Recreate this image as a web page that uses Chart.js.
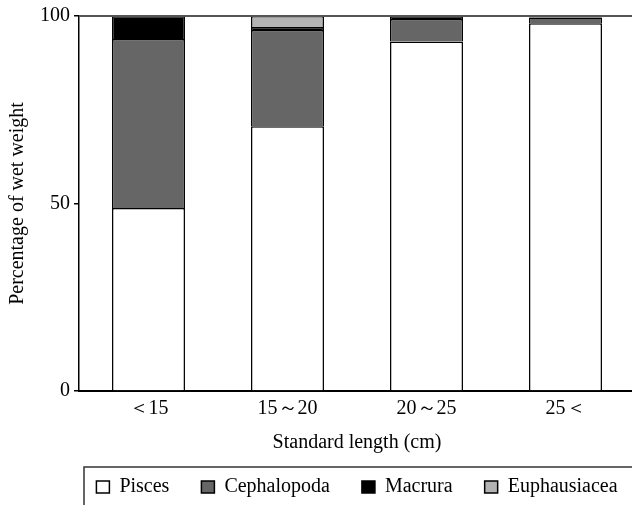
<!DOCTYPE html>
<html>
<head>
<meta charset="utf-8">
<script src="https://cdn.jsdelivr.net/npm/chart.js@4.4.1/dist/chart.umd.min.js"></script>
<style>
  html, body { margin: 0; padding: 0; background: #fff; overflow: hidden; }
  #wrap { width: 632px; height: 505px; overflow: hidden; position: relative; }
  canvas { position: absolute; left: 0; top: 0; }
</style>
</head>
<body>
<div id="wrap"><canvas id="chart" width="640" height="507"></canvas></div>
<script>
const categories = ['＜15', '15～20', '20～25', '25＜'];
const pisces = [48.8, 70.6, 93.2, 98.1];
const cephalopoda = [45.1, 25.7, 6.0, 1.5];
const macrura = [6.1, 0.8, 0.8, 0.4];
const euphausiacea = [0, 2.9, 0, 0];
const yTicks = [0, 50, 100];

const FONT = "'Liberation Serif', 'Times New Roman', serif";
const FS = 20;

// legend centred on the plot area, plus the frame lines round it
const extras = {
    id: 'extras',
    afterLayout(chart) {
        const a = chart.chartArea;
        // widen a bit so the last item stays on the first row
        chart.legend.left = a.left - 20;
        chart.legend.right = a.right + 20;
    },
    afterDraw(chart) {
        const ctx = chart.ctx;
        const a = chart.chartArea;
        ctx.save();
        // top line
        ctx.strokeStyle = '#555';
        ctx.lineWidth = 2;
        ctx.beginPath();
        ctx.moveTo(a.left, a.top);
        ctx.lineTo(chart.width, a.top);
        ctx.stroke();
        // legend frame
        const fy = chart.legend.top + 22;
        const fx = a.left + 5;
        ctx.strokeStyle = '#333';
        ctx.lineWidth = 1.5;
        ctx.beginPath();
        ctx.moveTo(fx, chart.height + 5);
        ctx.lineTo(fx, fy);
        ctx.lineTo(chart.width + 5, fy);
        ctx.stroke();
        ctx.restore();
    }
};

function series(label, data, color) {
    return {
        label: label,
        data: data,
        backgroundColor: color,
        borderColor: '#000',
        borderWidth: 1.5,
        barPercentage: 0.525,
        categoryPercentage: 1
    };
}

new Chart(document.getElementById('chart'), {
    type: 'bar',
    data: {
        labels: categories,
        datasets: [
            series('Pisces', pisces, '#ffffff'),
            series('Cephalopoda', cephalopoda, '#666666'),
            series('Macrura', macrura, '#000000'),
            series('Euphausiacea', euphausiacea, '#b3b3b3')
        ]
    },
    options: {
        responsive: false,
        animation: false,
        layout: { padding: { top: 15, right: 5, left: 0, bottom: 0 } },
        scales: {
            x: {
                stacked: true,
                grid: { display: false, drawTicks: false },
                border: { display: true, color: '#000', width: 2 },
                ticks: { color: '#000', padding: 6, font: { family: FONT, size: FS } },
                title: {
                    display: true,
                    text: 'Standard length (cm)',
                    color: '#000',
                    font: { family: FONT, size: FS },
                    padding: { top: 0, bottom: -10 }
                },
                afterFit: s => { s.height = 54; }
            },
            y: {
                stacked: true,
                min: 0,
                max: 100,
                afterBuildTicks: s => { s.ticks = yTicks.map(v => ({ value: v })); },
                grid: { drawOnChartArea: false, drawTicks: true, tickLength: 5, color: '#000', lineWidth: 1.5 },
                border: { display: true, color: '#000', width: 1.5 },
                ticks: { color: '#000', padding: 4, font: { family: FONT, size: FS } },
                title: {
                    display: true,
                    text: 'Percentage of wet weight',
                    color: '#000',
                    font: { family: FONT, size: FS },
                    padding: { top: 6, bottom: 0 }
                },
                afterFit: s => { s.width = 79; }
            }
        },
        plugins: {
            tooltip: { enabled: false },
            legend: {
                position: 'bottom',
                fullSize: true,
                align: 'center',
                labels: {
                    color: '#000',
                    boxWidth: 13,
                    boxHeight: 12,
                    padding: 32,
                    font: { family: FONT, size: FS }
                }
            }
        }
    },
    plugins: [extras]
});
</script>
</body>
</html>
